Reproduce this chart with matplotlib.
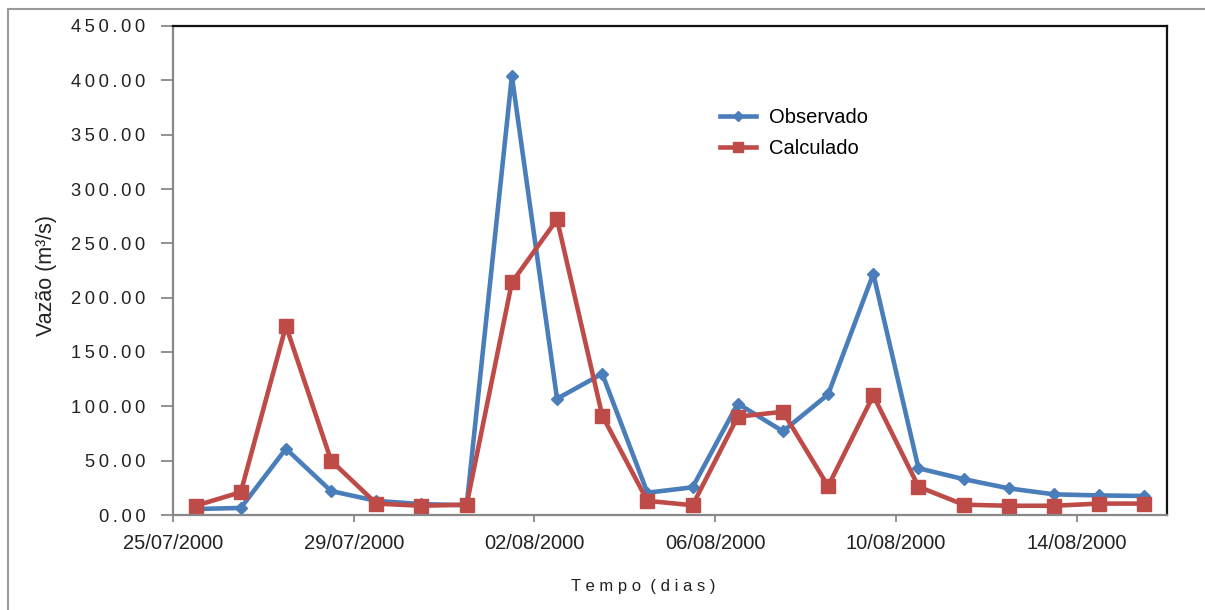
import numpy as np
import matplotlib
matplotlib.use('Agg')
import matplotlib.pyplot as plt
from matplotlib.patches import Rectangle
from matplotlib.ticker import FuncFormatter

plt.rcParams['font.family'] = ['Liberation Sans', 'DejaVu Sans']

# daily discharge values, 25/07/2000 .. 15/08/2000
observado = [5.5, 6.5, 61, 22, 13, 10, 9, 404, 107, 130, 20.5, 25.5,
             102.5, 77, 111, 222, 43, 33, 24.5, 19, 18, 17.5]
calculado = [8.5, 21, 174, 50, 10.5, 8.5, 9.5, 214, 272, 91.5, 13, 9,
             90.5, 95, 26.5, 110, 26, 9.5, 8.5, 8.5, 10.5, 10.5]
tick_labels = ['25/07/2000', '29/07/2000', '02/08/2000', '06/08/2000',
               '10/08/2000', '14/08/2000']

azul = '#4A7EBB'
vermelho = '#BE4B48'

fig = plt.figure(figsize=(12.05, 6.1), dpi=100)
ax = fig.add_axes([173/1205, 1 - 515/610, (1167-173)/1205, (515-26)/610])

x = np.arange(len(observado)) + 0.5
ax.plot(x, observado, color=azul, lw=3.3, marker='D', ms=6.5, label='Observado')
ax.plot(x, calculado, color=vermelho, lw=3.3, marker='s', ms=9.5, label='Calculado')

ax.set_xlim(0, len(observado))
ax.set_ylim(0, 450)
ax.set_yticks(np.arange(0, 451, 50))
# letter-spaced tick labels, as in the original
ax.yaxis.set_major_formatter(FuncFormatter(lambda v, p: '\u2009'.join('%.2f' % v)))
ax.set_xticks(np.arange(0, len(observado), 4))
ax.set_xticklabels(tick_labels)

ax.tick_params(axis='y', direction='out', length=9, width=1.3, color='#888888',
               labelsize=13.2, labelcolor='#222222', pad=11)
ax.tick_params(axis='x', direction='out', length=5, width=1.3, color='#888888',
               labelsize=14.5, labelcolor='#222222', pad=9)

for s in ['left', 'bottom']:
    ax.spines[s].set_color('#888888')
    ax.spines[s].set_linewidth(1.6)
for s in ['top', 'right']:
    ax.spines[s].set_color('#111111')
    ax.spines[s].set_linewidth(1.6)

ax.set_ylabel('Vazão (m³/s)', fontsize=15.5, color='#222222')
ax.yaxis.set_label_coords(-0.117, 0.49)
fig.text(643/1205, 1 - 587/610, 'T e m p o  ( d i a s )', fontsize=12,
         color='#222222', ha='center', va='center')

ax.legend(loc='upper left', bbox_to_anchor=(720/1205, 1 - 108/610),
          bbox_transform=fig.transFigure, frameon=False, fontsize=14.5,
          borderpad=0, borderaxespad=0, handlelength=1.8, handletextpad=0.65,
          labelspacing=0.6, markerscale=0.8)

# grey outer frame
fig.patches.append(Rectangle((8/1205, -0.1), 1.5, (610-9)/610 + 0.1,
                             transform=fig.transFigure, fill=False,
                             edgecolor='#999999', lw=1.5))

fig.savefig('out.png', dpi=100)
